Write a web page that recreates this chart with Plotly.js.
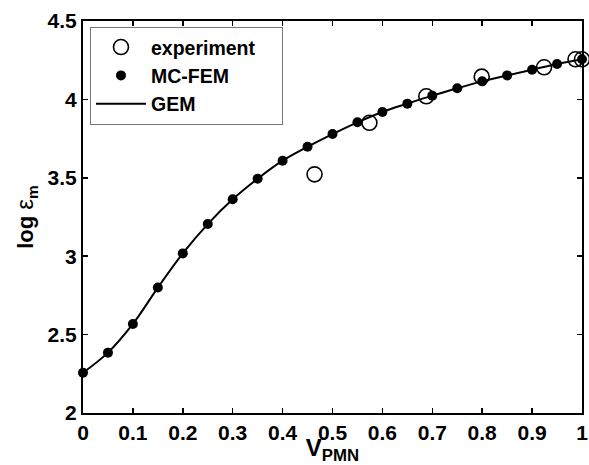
<!DOCTYPE html>
<html>
<head>
<meta charset="utf-8">
<script src="https://cdn.plot.ly/plotly-3.0.1.min.js"></script>
<style>
  html, body { margin: 0; padding: 0; background: #fff; }
  #plot { width: 589px; height: 465px; }
</style>
</head>
<body>
<div id="plot"></div>
<script>
// Volume fraction of PMN and log of effective permittivity
const simX = [0, 0.05, 0.1, 0.15, 0.2, 0.25, 0.3, 0.35, 0.4, 0.45, 0.5,
              0.55, 0.6, 0.65, 0.7, 0.75, 0.8, 0.85, 0.9, 0.95, 1.0];
const simY = [2.257, 2.385, 2.568, 2.80, 3.018, 3.205, 3.363, 3.494, 3.609, 3.698, 3.779,
              3.854, 3.92, 3.973, 4.024, 4.071, 4.115, 4.153, 4.189, 4.226, 4.256];

// GEM curve values
const gemX = simX;
const gemY = simY;

// Measured values
const expX = [0.464, 0.574, 0.688, 0.799, 0.924, 0.987, 1.0];
const expY = [3.522, 3.851, 4.02, 4.145, 4.205, 4.256, 4.256];

const xTicks = [0, 0.1, 0.2, 0.3, 0.4, 0.5, 0.6, 0.7, 0.8, 0.9, 1];
const xTickText = ['0', '0.1', '0.2', '0.3', '0.4', '0.5', '0.6', '0.7', '0.8', '0.9', '1'];
const yTicks = [2, 2.5, 3, 3.5, 4, 4.5];
const yTickText = ['2', '2.5', '3', '3.5', '4', '4.5'];

const fontFam = '"Liberation Sans", Arial, Helvetica, sans-serif';
// trailing non-breaking spaces give the legend box some room on the right
const pad = '\u00a0\u00a0\u00a0\u00a0';

const traces = [
  {
    x: expX, y: expY, name: 'experiment' + pad, type: 'scatter', mode: 'markers',
    cliponaxis: false,
    marker: { symbol: 'circle-open', size: 15, color: '#000', line: { width: 1.6, color: '#000' } }
  },
  {
    x: simX, y: simY, name: 'MC-FEM', type: 'scatter', mode: 'markers',
    cliponaxis: false,
    marker: { symbol: 'circle', size: 10, color: '#000' }
  },
  {
    x: gemX, y: gemY, name: 'GEM', type: 'scatter', mode: 'lines',
    line: { color: '#000', width: 2, shape: 'spline' }
  }
];

const axisCommon = {
  showline: true, mirror: 'ticks', linecolor: '#000', linewidth: 2,
  ticks: 'inside', ticklen: 5, tickwidth: 1.5, tickcolor: '#000',
  showgrid: false, zeroline: false,
  tickfont: { family: fontFam, size: 21, color: '#000', weight: 'bold' }
};

const layout = {
  width: 589, height: 465,
  margin: { l: 83, r: 7, t: 21, b: 52 },
  paper_bgcolor: '#fff', plot_bgcolor: '#fff',
  font: { family: fontFam, color: '#000' },
  showlegend: true,
  legend: {
    x: 0.014, y: 0.985, xanchor: 'left', yanchor: 'top',
    bgcolor: '#fff', bordercolor: '#777', borderwidth: 1,
    font: { family: fontFam, size: 19.5, color: '#000', weight: 'bold' },
    itemwidth: 50, tracegroupgap: 0
  },
  xaxis: Object.assign({}, axisCommon, {
    range: [0, 1], tickvals: xTicks, ticktext: xTickText,
    title: { text: 'V<sub>PMN</sub>',
             font: { family: fontFam, size: 24, color: '#000', weight: 'bold' } }
  }),
  yaxis: Object.assign({}, axisCommon, {
    range: [2, 4.5], tickvals: yTicks, ticktext: yTickText,
    title: { text: 'log <span style="font-weight:normal;font-size:24px">ε</span><sub>m</sub>', standoff: 8,
             font: { family: fontFam, size: 22, color: '#000', weight: 'bold' } }
  })
};

Plotly.newPlot('plot', traces, layout, { displayModeBar: false, staticPlot: true });
</script>
</body>
</html>
